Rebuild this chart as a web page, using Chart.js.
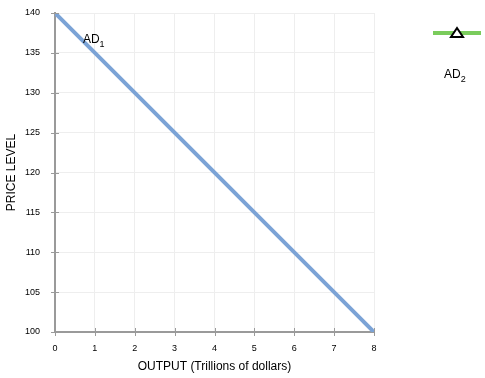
<!DOCTYPE html>
<html>
<head>
<meta charset="utf-8">
<script src="https://cdn.jsdelivr.net/npm/chart.js@4.4.0/dist/chart.umd.min.js"></script>
<style>
  body { margin: 0; background: #fff; }
  #wrap { width: 485px; height: 378px; }
</style>
</head>
<body>
<div id="wrap"><canvas id="adChart" width="485" height="378"></canvas></div>
<script>
// data
var output = [0, 8];
var priceAD1 = [140, 100];
var xTicks = [0, 1, 2, 3, 4, 5, 6, 7, 8];
var yTicks = [100, 105, 110, 115, 120, 125, 130, 135, 140];

var FONT = "'Liberation Sans', Arial, sans-serif";
var blue = "#7ba3d6";
var green = "#7acc5c";
var axisGray = "#9a9a9a";

function subLabel(ctx, x, y, main, sub) {
    ctx.font = "12px " + FONT;
    ctx.fillStyle = "#000";
    ctx.textAlign = "left";
    ctx.textBaseline = "alphabetic";
    ctx.fillText(main, x, y);
    var w = ctx.measureText(main).width;
    ctx.font = "9px " + FONT;
    ctx.fillText(sub, x + w, y + 4);
}

var extras = {
    id: "extras",
    afterDraw: function (chart) {
        var ctx = chart.ctx;
        var xs = chart.scales.x, ys = chart.scales.y;
        ctx.save();
        // tick marks crossing the axes
        ctx.strokeStyle = axisGray;
        ctx.lineWidth = 1;
        xTicks.forEach(function (v) {
            var px = Math.round(xs.getPixelForValue(v)) + 0.5;
            ctx.beginPath();
            ctx.moveTo(px, ys.bottom - 4);
            ctx.lineTo(px, ys.bottom + 4);
            ctx.stroke();
        });
        yTicks.forEach(function (v) {
            var py = Math.round(ys.getPixelForValue(v)) + 0.5;
            ctx.beginPath();
            ctx.moveTo(xs.left - 4, py);
            ctx.lineTo(xs.left + 4, py);
            ctx.stroke();
        });
        // curve label
        subLabel(ctx, xs.getPixelForValue(0.7), ys.getPixelForValue(136.3), "AD", "1");
        // legend for AD2
        ctx.strokeStyle = green;
        ctx.lineWidth = 4;
        ctx.beginPath();
        ctx.moveTo(433, 33);
        ctx.lineTo(481, 33);
        ctx.stroke();
        ctx.strokeStyle = "#000";
        ctx.fillStyle = "#fff";
        ctx.lineWidth = 2;
        ctx.beginPath();
        ctx.moveTo(457, 28);
        ctx.lineTo(463, 37);
        ctx.lineTo(451, 37);
        ctx.closePath();
        ctx.fill();
        ctx.stroke();
        subLabel(ctx, 444, 78, "AD", "2");
        ctx.restore();
    }
};

var points = output.map(function (x, i) { return { x: x, y: priceAD1[i] }; });

new Chart(document.getElementById("adChart"), {
    type: "line",
    data: {
        datasets: [{
            label: "AD1",
            data: points,
            borderColor: blue,
            borderWidth: 4,
            pointRadius: 0,
            fill: false
        }]
    },
    options: {
        responsive: false,
        animation: false,
        layout: { padding: { top: 13, right: 111, left: 0, bottom: 0 } },
        plugins: { legend: { display: false }, tooltip: { enabled: false } },
        scales: {
            x: {
                type: "linear",
                min: 0, max: 8,
                afterBuildTicks: function (s) { s.ticks = xTicks.map(function (v) { return { value: v }; }); },
                afterFit: function (s) { s.height = 46; },
                grid: { color: "#eeeeee", drawTicks: true, tickLength: 8, tickColor: "rgba(0,0,0,0)" },
                border: { color: axisGray, width: 2 },
                ticks: { padding: 3, color: "#000", font: { family: FONT, size: 9 } },
                title: { display: true, text: "OUTPUT (Trillions of dollars)", color: "#000",
                         font: { family: FONT, size: 12 }, padding: { top: 0, bottom: 4 } }
            },
            y: {
                type: "linear",
                min: 100, max: 140,
                afterBuildTicks: function (s) { s.ticks = yTicks.map(function (v) { return { value: v }; }); },
                afterFit: function (s) { s.width = 55; },
                grid: { color: "#eeeeee", drawTicks: true, tickLength: 11, tickColor: "rgba(0,0,0,0)" },
                border: { color: axisGray, width: 2 },
                ticks: { padding: 4, color: "#000", font: { family: FONT, size: 9 } },
                title: { display: true, text: "PRICE LEVEL", color: "#000",
                         font: { family: FONT, size: 12 }, padding: { top: 4, bottom: 0 } }
            }
        }
    },
    plugins: [extras]
});
</script>
</body>
</html>
